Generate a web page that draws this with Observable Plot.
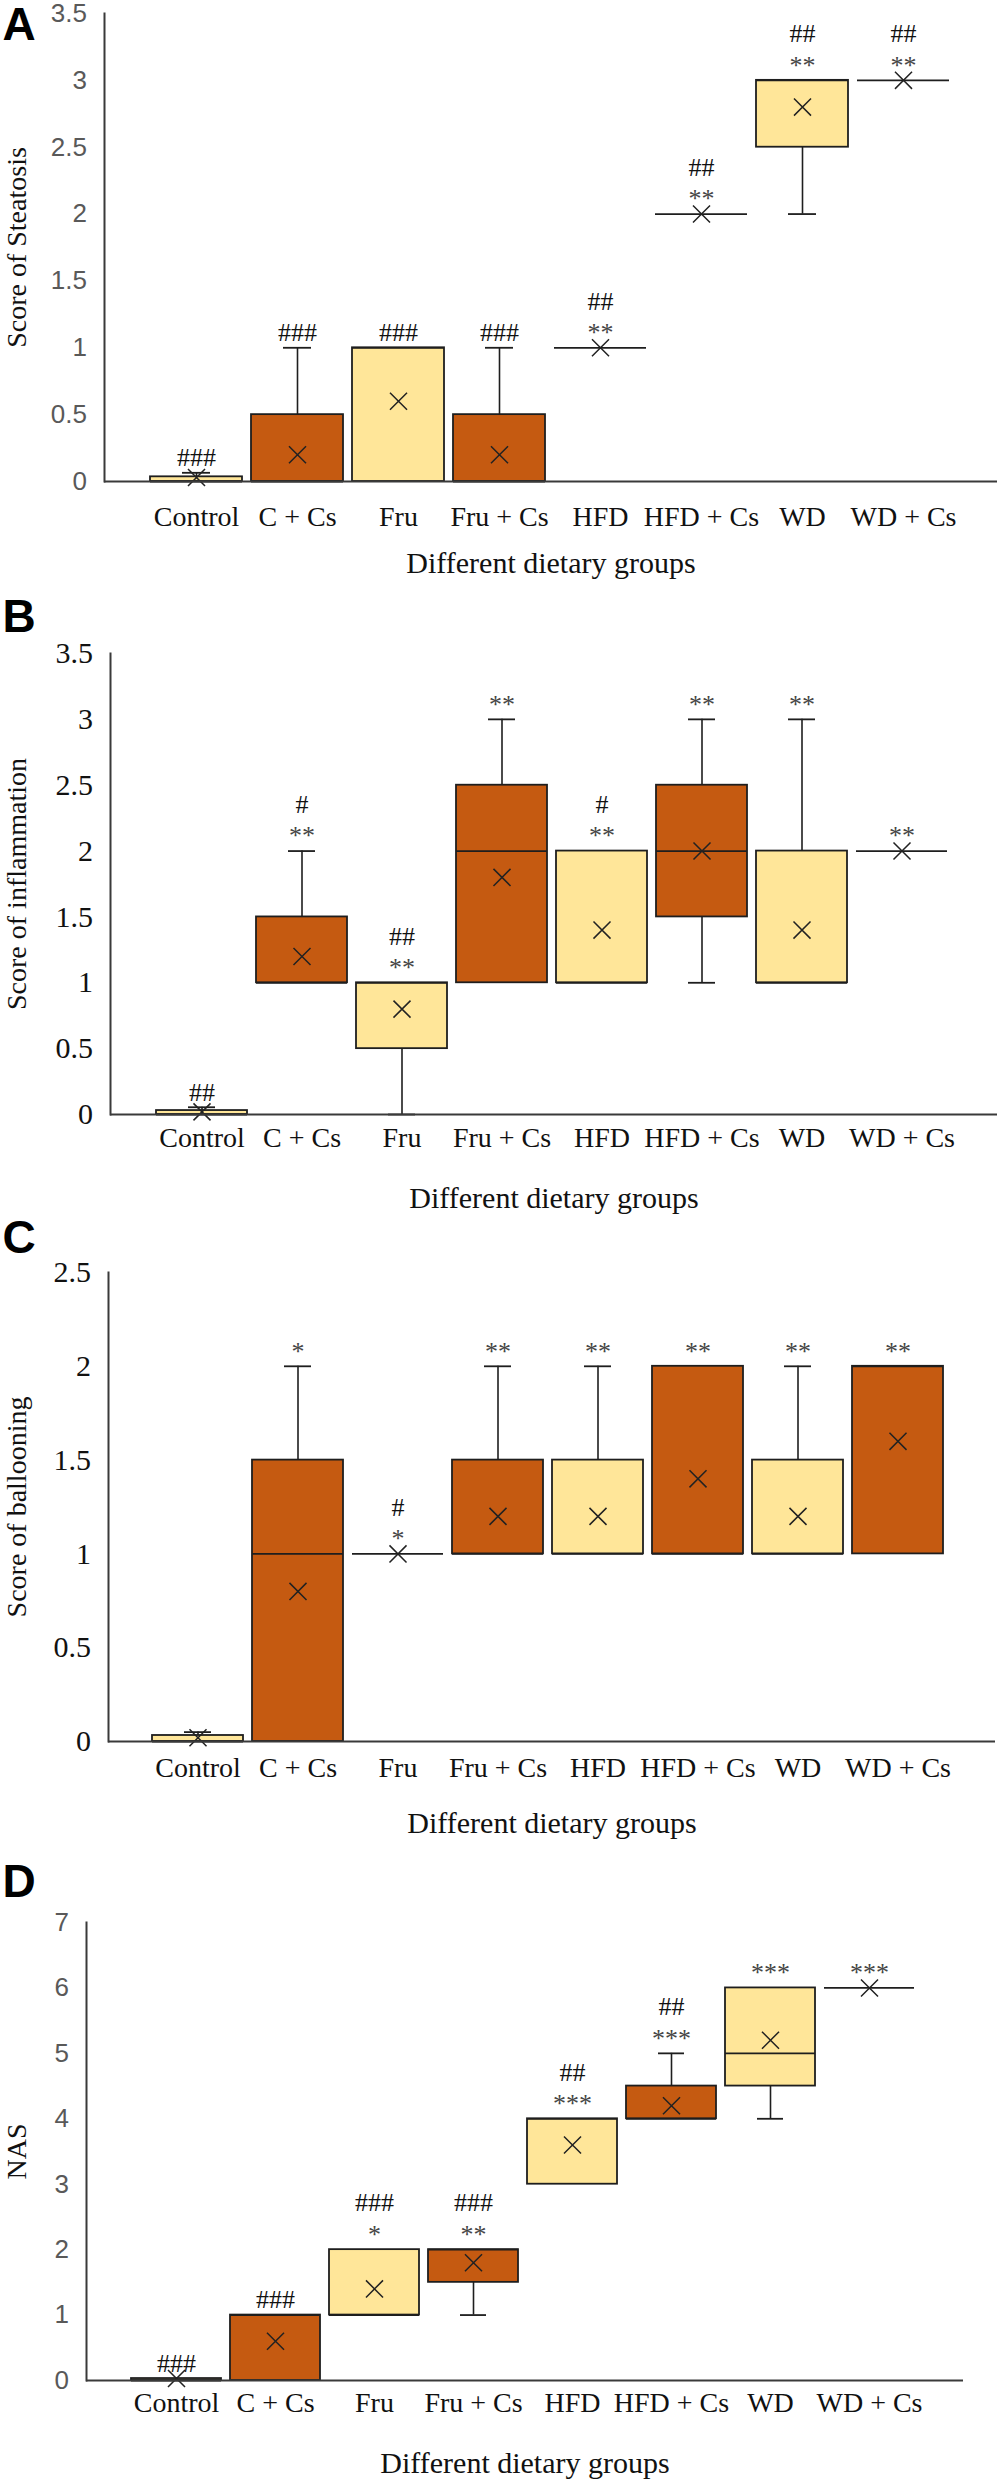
<!DOCTYPE html>
<html>
<head>
<meta charset="utf-8">
<script src="https://cdn.jsdelivr.net/npm/d3@7"></script>
<script src="https://cdn.jsdelivr.net/npm/@observablehq/plot@0.6"></script>
<style>
  body { margin: 0; background: #ffffff; }
  #chart { position: relative; width: 1002px; height: 2481px; background: #fff; }
  #chart svg { display: block; }
  g[aria-label="ytitle"] text { letter-spacing: 1.2px; }
  g[aria-label="ytitle-wide"] text { letter-spacing: 2.5px; }
  g[aria-label="xtitle"] text { word-spacing: 8px; }
</style>
</head>
<body>
<div id="chart"></div>
<script>
// ---------- data ----------
const categories = ["Control", "C + Cs", "Fru", "Fru + Cs", "HFD", "HFD + Cs", "WD", "WD + Cs"];
const groups = ["diet", "diet + Cs", "diet", "diet + Cs", "diet", "diet + Cs", "diet", "diet + Cs"];
const xTitle = "Different dietary groups";

// A: steatosis
const steatosisMin    = [0, 0, 0, 0, 1, 2, 2, 3];
const steatosisQ1     = [0, 0, 0, 0, 1, 2, 2.5, 3];
const steatosisMedian = [0, 0, 1, 0, 1, 2, 3, 3];
const steatosisQ3     = [0.035, 0.5, 1, 0.5, 1, 2, 3, 3];
const steatosisMax    = [0.065, 1, 1, 1, 1, 2, 3, 3];
const steatosisMean   = [0.03, 0.2, 0.6, 0.2, 1, 2, 2.8, 3];
const steatosisSig1   = ["###", "###", "###", "###", "**", "**", "**", "**"];
const steatosisSig2   = ["", "", "", "", "##", "##", "##", "##"];
const steatosisTicks  = [0, 0.5, 1, 1.5, 2, 2.5, 3, 3.5];

// B: inflammation
const inflamMin    = [0, 1, 0, 1, 1, 1, 1, 2];
const inflamQ1     = [0, 1, 0.5, 1, 1, 1.5, 1, 2];
const inflamMedian = [0, 1, 1, 2, 1, 2, 1, 2];
const inflamQ3     = [0.03, 1.5, 1, 2.5, 2, 2.5, 2, 2];
const inflamMax    = [0.055, 2, 1, 3, 2, 3, 3, 2];
const inflamMean   = [0.02, 1.2, 0.8, 1.8, 1.4, 2, 1.4, 2];
const inflamSig1   = ["##", "**", "**", "**", "**", "**", "**", "**"];
const inflamSig2   = ["", "#", "##", "", "#", "", "", ""];
const inflamTicks  = [0, 0.5, 1, 1.5, 2, 2.5, 3, 3.5];

// C: ballooning
const balloonMin    = [0, 0, 1, 1, 1, 1, 1, 1];
const balloonQ1     = [0, 0, 1, 1, 1, 1, 1, 1];
const balloonMedian = [0, 1, 1, 1, 1, 1, 1, 2];
const balloonQ3     = [0.032, 1.5, 1, 1.5, 1.5, 2, 1.5, 2];
const balloonMax    = [0.05, 2, 1, 2, 2, 2, 2, 2];
const balloonMean   = [0.02, 0.8, 1, 1.2, 1.2, 1.4, 1.2, 1.6];
const balloonSig1   = ["", "*", "*", "**", "**", "**", "**", "**"];
const balloonSig2   = ["", "", "#", "", "", "", "", ""];
const balloonTicks  = [0, 0.5, 1, 1.5, 2, 2.5];

// D: NAS
const nasMin    = [0, 0, 1, 1, 3, 4, 4, 6];
const nasQ1     = [0, 0, 1, 1.5, 3, 4, 4.5, 6];
const nasMedian = [0, 1, 1, 2, 4, 4, 5, 6];
const nasQ3     = [0.03, 1, 2, 2, 4, 4.5, 6, 6];
const nasMax    = [0.03, 1, 2, 2, 4, 5, 6, 6];
const nasMean   = [0.03, 0.6, 1.4, 1.8, 3.6, 4.2, 5.2, 6];
const nasSig1   = ["###", "###", "*", "**", "***", "***", "***", "***"];
const nasSig2   = ["", "", "###", "###", "##", "##", "", ""];
const nasTicks  = [0, 1, 2, 3, 4, 5, 6, 7];

// ---------- layout / style ----------
const YELLOW = "#FFE699", ORANGE = "#C55A11", INK = "#1e1e1e", AXIS = "#3a3a3a";
const SERIF = "Liberation Serif, Times New Roman, serif";
const SANS = "Liberation Sans, Arial, sans-serif";

const panels = [
  { letter: "A", ytitle: "Score of Steatosis", titleClass: "ytitle",
    min: steatosisMin, q1: steatosisQ1, med: steatosisMedian, q3: steatosisQ3, max: steatosisMax, mean: steatosisMean,
    sig1: steatosisSig1, sig2: steatosisSig2, ticks: steatosisTicks, yMax: 3.5,
    height: 590, mt: 13, mb: 109, ml: 104, mr: 5, xRange: [143.25, 955.25],
    tickFont: SANS, tickSize: 26, tickColor: "#595959", xPad: 24.6, titleDy: 81.5, letterDy: 11.5 },
  { letter: "B", ytitle: "Score of inflammation", titleClass: "ytitle",
    min: inflamMin, q1: inflamQ1, med: inflamMedian, q3: inflamQ3, max: inflamMax, mean: inflamMean,
    sig1: inflamSig1, sig2: inflamSig2, ticks: inflamTicks, yMax: 3.5,
    height: 630, mt: 63, mb: 106, ml: 110, mr: 5, xRange: [148.1, 954.5],
    tickFont: SERIF, tickSize: 30, tickColor: "#111", xPad: 12.6, titleDy: 84, letterDy: -36 },
  { letter: "C", ytitle: "Score of ballooning", titleClass: "ytitle",
    min: balloonMin, q1: balloonQ1, med: balloonMedian, q3: balloonQ3, max: balloonMax, mean: balloonMean,
    sig1: balloonSig1, sig2: balloonSig2, ticks: balloonTicks, yMax: 2.5,
    height: 630, mt: 52, mb: 109, ml: 108, mr: 7, xRange: [145.7, 950.3],
    tickFont: SERIF, tickSize: 30, tickColor: "#111", xPad: 15.6, titleDy: 82, letterDy: -34 },
  { letter: "D", ytitle: "NAS", titleClass: "ytitle-wide",
    min: nasMin, q1: nasQ1, med: nasMedian, q3: nasQ3, max: nasMax, mean: nasMean,
    sig1: nasSig1, sig2: nasSig2, ticks: nasTicks, yMax: 7,
    height: 631, mt: 72, mb: 101, ml: 86, mr: 39, xRange: [124.2, 920.8],
    tickFont: SANS, tickSize: 26, tickColor: "#595959", xPad: 11.6, titleDy: 83, letterDy: -40.5 }
];

function makePanel(p) {
  const rows = categories.map((cat, i) => ({
    cat, group: groups[i], min: p.min[i], q1: p.q1[i], med: p.med[i], q3: p.q3[i],
    max: p.max[i], mean: p.mean[i], sig1: p.sig1[i], sig2: p.sig2[i]
  }));
  const upper = rows.filter(d => d.max > d.q3);
  const lower = rows.filter(d => d.min < d.q1);
  const stars = rows.filter(d => d.sig1.startsWith("*"));
  const hashes1 = rows.filter(d => d.sig1.startsWith("#"));
  const capInset = 32;
  return Plot.plot({
    width: 1002,
    height: p.height,
    marginTop: p.mt, marginBottom: p.mb, marginLeft: p.ml, marginRight: p.mr,
    style: { background: "#fff", overflow: "visible" },
    x: { domain: categories, range: p.xRange, paddingInner: 0.09, paddingOuter: 0.045 },
    y: { domain: [0, p.yMax] },
    color: { domain: ["diet", "diet + Cs"], range: [YELLOW, ORANGE] },
    marks: [
      Plot.ruleX(upper, { x: "cat", y1: "q3", y2: "max", stroke: INK, strokeWidth: 1.6 }),
      Plot.ruleX(lower, { x: "cat", y1: "min", y2: "q1", stroke: INK, strokeWidth: 1.6 }),
      Plot.tickY(upper, { x: "cat", y: "max", stroke: INK, strokeWidth: 1.8, insetLeft: capInset, insetRight: capInset }),
      Plot.tickY(lower, { x: "cat", y: "min", stroke: INK, strokeWidth: 1.8, insetLeft: capInset, insetRight: capInset }),
      Plot.barY(rows, { x: "cat", y1: "q1", y2: "q3", fill: "group", stroke: INK, strokeWidth: 1.8 }),
      Plot.tickY(rows, { x: "cat", y: "med", stroke: INK, strokeWidth: 1.8 }),
      Plot.dot(rows, { x: "cat", y: "mean", symbol: "times", r: 7.8, stroke: "#222", strokeWidth: 1.5 }),
      Plot.ruleY([0], { stroke: AXIS, strokeWidth: 2 }),
      Plot.frame({ anchor: "left", stroke: AXIS, strokeWidth: 2 }),
      Plot.text(stars, { x: "cat", y: "max", text: "sig1", dy: -15, lineAnchor: "middle", fontSize: 26, fontFamily: SERIF, fill: "#444" }),
      Plot.text(hashes1, { x: "cat", y: "max", text: "sig1", dy: -15, lineAnchor: "middle", fontSize: 26, fontFamily: SERIF, fill: "#111" }),
      Plot.text(rows, { x: "cat", y: "max", text: "sig2", dy: -46.5, lineAnchor: "middle", fontSize: 26, fontFamily: SERIF, fill: "#111" }),
      Plot.axisY({ ticks: p.ticks, tickSize: 0, tickPadding: 17.5, tickFormat: d => `${d}`,
        fontSize: p.tickSize, fontFamily: p.tickFont, color: p.tickColor, label: null }),
      Plot.axisX({ tickSize: 0, tickPadding: p.xPad, fontSize: 28, fontFamily: SERIF, color: "#111", label: null }),
      Plot.text([p.ytitle], { frameAnchor: "left", textAnchor: "middle", lineAnchor: "middle", rotate: -90,
        dx: 17 - p.ml, fontSize: 28, fontFamily: SERIF, fill: "#111", ariaLabel: p.titleClass }),
      Plot.text([xTitle], { frameAnchor: "bottom", textAnchor: "middle", lineAnchor: "middle", dy: p.titleDy,
        fontSize: 30, fontFamily: SERIF, fill: "#111", ariaLabel: "xtitle" }),
      Plot.text([p.letter], { frameAnchor: "top-left", textAnchor: "start", lineAnchor: "middle",
        dx: 2 - p.ml, dy: p.letterDy, fontSize: 46, fontWeight: "bold", fontFamily: SANS, fill: "#000" })
    ]
  });
}

const root = document.getElementById("chart");
for (const p of panels) root.appendChild(makePanel(p));
</script>
</body>
</html>
